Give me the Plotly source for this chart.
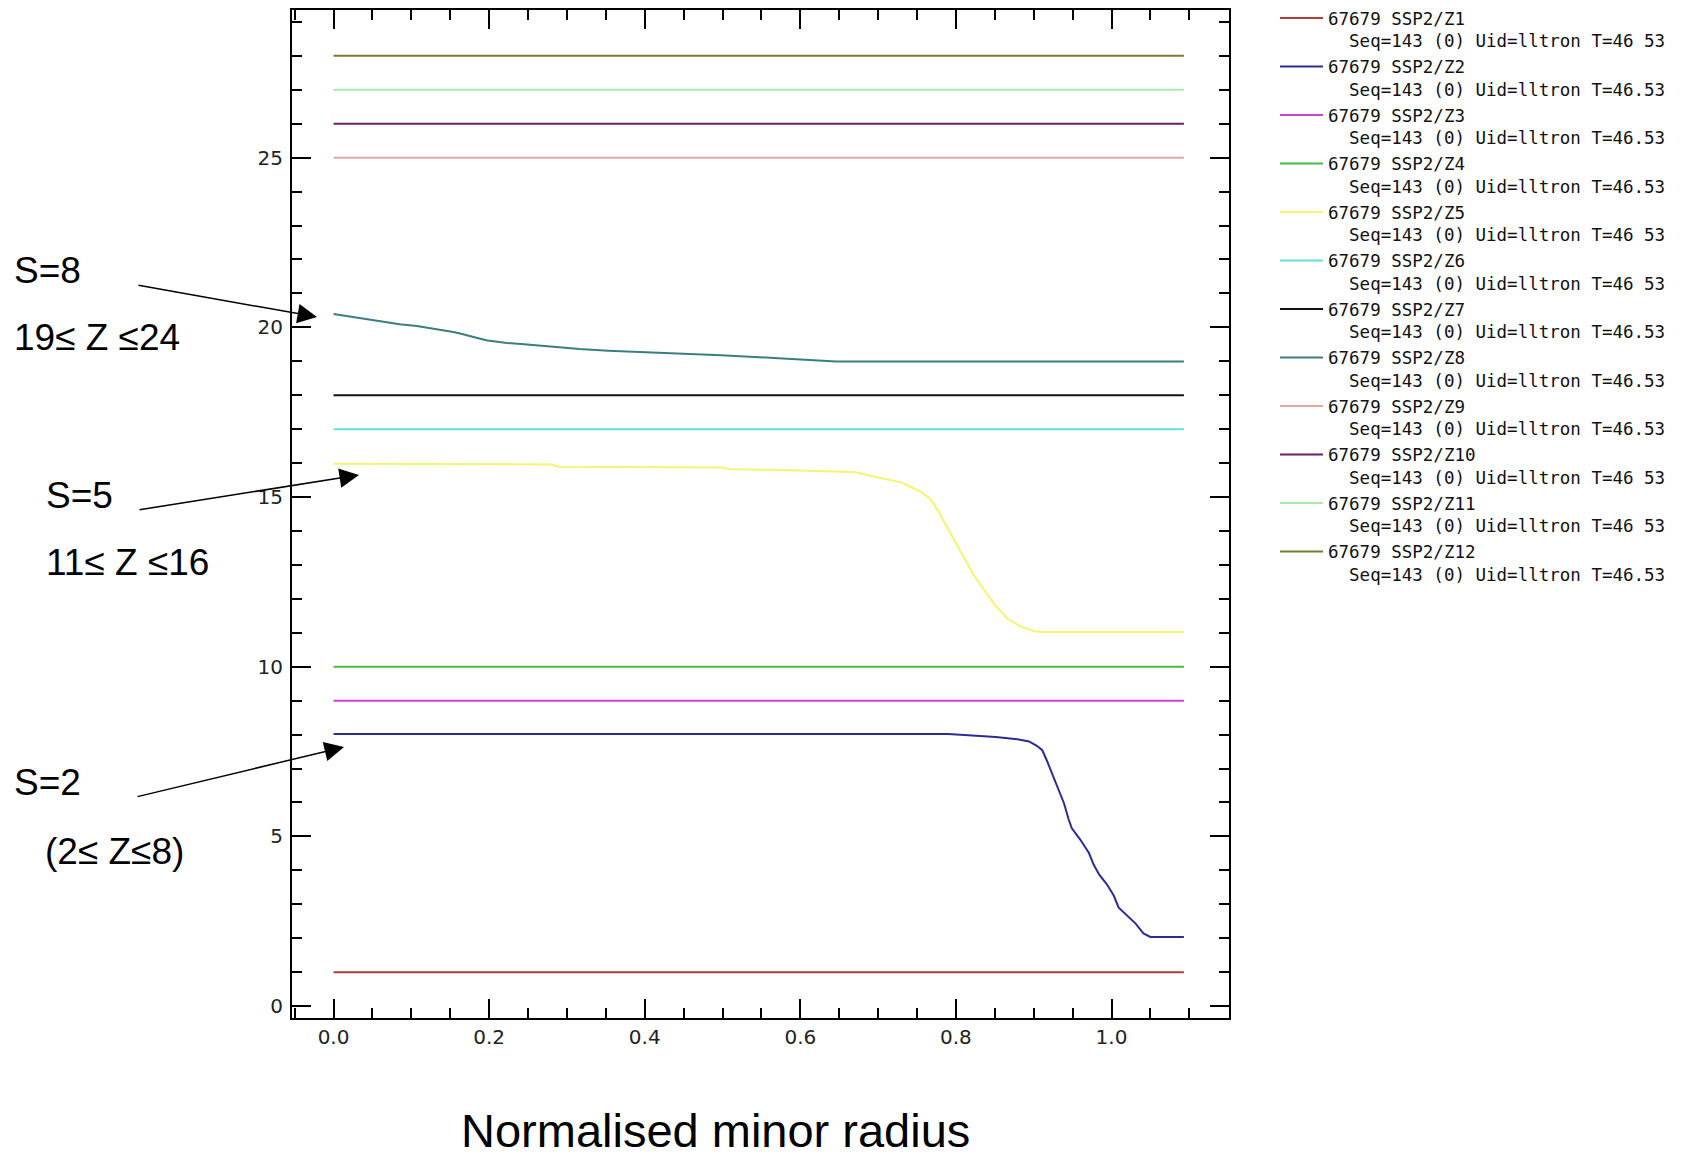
import plotly.graph_objects as go

# ---------------- data ----------------
x_flat = [0.0, 1.093]
z1 = [1, 1]
z3 = [9, 9]
z4 = [10, 10]
z6 = [17, 17]
z7 = [18, 18]
z9 = [25, 25]
z10 = [26, 26]
z11 = [27, 27]
z12 = [28, 28]

z2_x = [0.0, 0.790, 0.816, 0.851, 0.879, 0.894, 0.904, 0.911, 0.917, 0.926, 0.932, 0.939,
        0.945, 0.949, 0.960, 0.971, 0.977, 0.984, 0.994, 1.003, 1.009, 1.020, 1.031, 1.041,
        1.050, 1.093]
z2_y = [8.02, 8.02, 7.98, 7.93, 7.86, 7.80, 7.67, 7.54, 7.23, 6.70, 6.36, 5.97,
        5.49, 5.24, 4.90, 4.51, 4.17, 3.88, 3.59, 3.25, 2.91, 2.67, 2.43, 2.14,
        2.04, 2.04]

z5_x = [0.0, 0.279, 0.290, 0.498, 0.510, 0.572, 0.646, 0.671, 0.703, 0.729, 0.741, 0.754,
        0.767, 0.776, 0.789, 0.806, 0.822, 0.834, 0.849, 0.866, 0.883, 0.900, 0.909, 1.093]
z5_y = [15.98, 15.96, 15.89, 15.87, 15.82, 15.80, 15.75, 15.73, 15.56, 15.44, 15.31, 15.17,
        14.95, 14.63, 14.10, 13.41, 12.73, 12.34, 11.85, 11.42, 11.19, 11.05, 11.02, 11.02]

z8_x = [0.0, 0.026, 0.046, 0.065, 0.085, 0.107, 0.127, 0.139, 0.154, 0.164, 0.173, 0.186,
        0.198, 0.210, 0.223, 0.245, 0.272, 0.292, 0.316, 0.353, 0.422, 0.498, 0.572, 0.646,
        1.093]
z8_y = [20.39, 20.30, 20.22, 20.15, 20.09, 20.04, 19.97, 19.91, 19.86, 19.81, 19.75, 19.68,
        19.61, 19.57, 19.54, 19.50, 19.45, 19.40, 19.36, 19.31, 19.25, 19.18, 19.09, 18.99,
        18.99]

series_names = ["Z1", "Z2", "Z3", "Z4", "Z5", "Z6", "Z7", "Z8", "Z9", "Z10", "Z11", "Z12"]
t_labels = ["46 53", "46.53", "46.53", "46.53", "46 53", "46 53",
            "46.53", "46.53", "46.53", "46 53", "46 53", "46.53"]
colors = ["#b03c3c", "#2c2c94", "#cc44cc", "#44bb44", "#f4f46e", "#66dede",
          "#111111", "#3a7f80", "#e8a4a4", "#6a1f6a", "#a8eaa8", "#7a7a30"]

series_x = [x_flat, z2_x, x_flat, x_flat, z5_x, x_flat, x_flat, z8_x, x_flat, x_flat, x_flat, x_flat]
series_y = [z1, z2_y, z3, z4, z5_y, z6, z7, z8_y, z9, z10, z11, z12]

x_title = "Normalised minor radius"
notes = [("S=8", 12, 270), ("19\u2264 Z \u226424", 12, 338),
         ("S=5", 44, 496), ("11\u2264 Z \u226416", 44, 562),
         ("S=2", 12, 783), ("(2\u2264 Z\u22648)", 43, 851)]
# arrows: (tail_px, tail_py, tip_px, tip_py)
arrows = [(137, 285, 317, 317), (138, 510, 359, 475), (136, 797, 344, 747)]

# ---------------- figure ----------------
W, H = 1708, 1160
PL, PR, PT, PB = 292, 1229, 10, 1018
XR = [-0.0534, 1.151]
YR = [-0.35, 29.35]


def paper(px, py):
    return (px - PL) / (PR - PL), (PB - py) / (PB - PT)


fig = go.Figure()
nb = "\u00a0"
for name, t, c, xs, ys in zip(series_names, t_labels, colors, series_x, series_y):
    fig.add_trace(go.Scatter(
        x=xs, y=ys, mode="lines", line=dict(color=c, width=2),
        name=f"67679 SSP2/{name}<br>{nb*2}Seq=143 (0) Uid=lltron T={t}",
    ))

annotations = []
for text, px, py in notes:
    xp, yp = paper(px, py)
    annotations.append(dict(text=text, x=xp, y=yp, xref="paper", yref="paper",
                            xanchor="left", yanchor="middle", showarrow=False,
                            font=dict(family="Liberation Sans, Arial", size=37, color="black")))
for tx, ty, hx, hy in arrows:
    xp, yp = paper(hx, hy)
    annotations.append(dict(text="", x=xp, y=yp, xref="paper", yref="paper",
                            ax=tx - hx, ay=ty - hy, axref="pixel", ayref="pixel",
                            showarrow=True, arrowhead=2, arrowsize=2.6, arrowwidth=1.5,
                            arrowcolor="black", standoff=0))
xp, yp = paper(715, 1159)
annotations.append(dict(text=x_title, x=xp, y=yp, xref="paper", yref="paper",
                        xanchor="center", yanchor="bottom", showarrow=False,
                        font=dict(family="Liberation Sans, Arial", size=47, color="black")))

axis_common = dict(showline=True, linecolor="black", linewidth=2, mirror="ticks",
                   ticks="inside", ticklen=19, tickwidth=2, tickcolor="black",
                   showgrid=False, zeroline=False,
                   tickfont=dict(family="DejaVu Sans", size=20, color="#222222"))

fig.update_layout(
    width=W, height=H,
    margin=dict(l=PL, r=W - PR, t=PT, b=H - PB, autoexpand=False),
    paper_bgcolor="white", plot_bgcolor="white",
    xaxis=dict(range=XR, dtick=0.2, tick0=0, tickformat=".1f",
               minor=dict(dtick=0.05, tick0=0, ticks="inside", ticklen=10,
                          tickwidth=2, tickcolor="black"),
               **axis_common),
    yaxis=dict(range=YR, dtick=5, tick0=0, ticklabelstandoff=3,
               minor=dict(dtick=1, tick0=0, ticks="inside", ticklen=10,
                          tickwidth=2, tickcolor="black"),
               **axis_common),
    legend=dict(x=paper(1275, 0)[0], y=paper(0, 0)[1], xanchor="left", yanchor="top",
                valign="top", bgcolor="rgba(0,0,0,0)", borderwidth=0,
                itemwidth=43, maxheight=1000,
                font=dict(family="DejaVu Sans Mono", size=17.5, color="#111111"),
                tracegroupgap=0),
    showlegend=True,
    annotations=annotations,
)

fig.write_html("out.html", config={"displayModeBar": False},
               post_script="document.body.style.margin='0px';"
                           "document.body.style.overflow='hidden';")
